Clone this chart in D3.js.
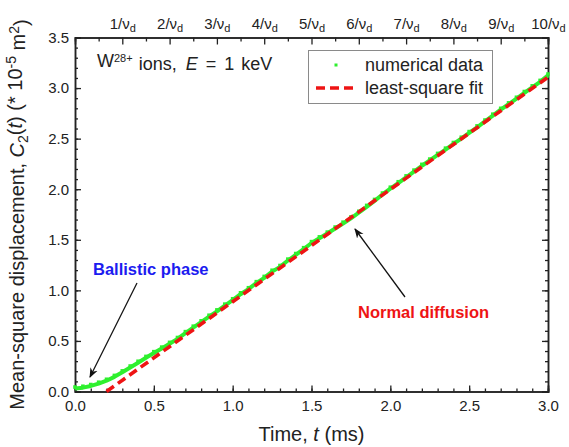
<!DOCTYPE html>
<html>
<head>
<meta charset="utf-8">
<script src="https://cdn.jsdelivr.net/npm/d3@7"></script>
<style>
  html, body { margin: 0; padding: 0; background: #fff; }
  svg { display: block; font-family: "Liberation Sans", Arial, sans-serif; }
</style>
</head>
<body>
<svg id="chart" width="569" height="447"></svg>
<script>
// Time (ms) and mean-square displacement C2(t) (×10^-5 m^2) from the simulation
const timeMs = [
  0.00, 0.05, 0.10, 0.15, 0.20, 0.25, 0.30, 0.35, 0.40, 0.45,
  0.50, 0.55, 0.60, 0.65, 0.70, 0.75, 0.80, 0.85, 0.90, 0.95,
  1.00, 1.05, 1.10, 1.15, 1.20, 1.25, 1.30, 1.35, 1.40, 1.45,
  1.50, 1.55, 1.60, 1.65, 1.70, 1.75, 1.80, 1.85, 1.90, 1.95,
  2.00, 2.05, 2.10, 2.15, 2.20, 2.25, 2.30, 2.35, 2.40, 2.45,
  2.50, 2.55, 2.60, 2.65, 2.70, 2.75, 2.80, 2.85, 2.90, 2.95, 3.00
];
const msdValues = [
  0.030, 0.038, 0.055, 0.078, 0.107, 0.145, 0.190, 0.238, 0.285, 0.333,
  0.380, 0.425, 0.472, 0.520, 0.578, 0.632, 0.685, 0.740, 0.793, 0.850,
  0.903, 0.962, 1.012, 1.072, 1.124, 1.185, 1.232, 1.295, 1.350, 1.408,
  1.468, 1.515, 1.562, 1.612, 1.660, 1.712, 1.768, 1.826, 1.885, 1.948,
  2.006, 2.060, 2.118, 2.175, 2.232, 2.284, 2.340, 2.392, 2.448, 2.500,
  2.556, 2.612, 2.670, 2.728, 2.786, 2.840, 2.895, 2.952, 3.008, 3.062, 3.125
];

// Least-square linear fit, given by its two end points
const fitTime = [0.2, 3.0];
const fitMsd = [0.0, 3.108];

// Tick values and labels
const xTicks = [0, 0.5, 1.0, 1.5, 2.0, 2.5, 3.0];
const yTicks = [0, 0.5, 1.0, 1.5, 2.0, 2.5, 3.0, 3.5];
const topTickMultiples = [1, 2, 3, 4, 5, 6, 7, 8, 9, 10];
const driftPeriodMs = 0.3;   // 1/ν_d in ms

const svg = d3.select("#chart");
const plotL = 75, plotR = 548, plotT = 37.5, plotB = 391.5;

const x = d3.scaleLinear().domain([0, 3]).range([plotL, plotR]);
const y = d3.scaleLinear().domain([0, 3.5]).range([plotB, plotT]);

const GREEN = "#2ef02e";
const RED = "#ee1414";
const AXIS = "#222";

// ---- axes (all ticks pointing inward) ----
const fmt = d3.format(".1f");
const minorX = d3.range(0, 3.0001, 0.1).map(v => +v.toFixed(2));
const minorY = d3.range(0, 3.5001, 0.1).map(v => +v.toFixed(2));
const topMajor = topTickMultiples.map(k => +(k * driftPeriodMs).toFixed(3));
const topMinor = topTickMultiples.map(k => +((k - 0.5) * driftPeriodMs).toFixed(3));

function styleAxis(g) {
  g.select(".domain").attr("stroke", AXIS).attr("stroke-width", 1.5);
  g.selectAll(".tick line").attr("stroke", AXIS).attr("stroke-width", 1.3);
  g.selectAll("text").attr("fill", "#222").style("font-size", "15px")
    .style("font-family", "'Liberation Sans', Arial, sans-serif");
}

// bottom
svg.append("g").attr("transform", `translate(0,${plotB})`)
  .call(d3.axisBottom(x).tickValues(minorX).tickSize(-3).tickFormat(""))
  .call(styleAxis);
svg.append("g").attr("transform", `translate(0,${plotB})`)
  .call(d3.axisBottom(x).tickValues(xTicks).tickSize(-6).tickPadding(9).tickFormat(fmt))
  .call(styleAxis);

// left
svg.append("g").attr("transform", `translate(${plotL},0)`)
  .call(d3.axisLeft(y).tickValues(minorY).tickSize(-3).tickFormat(""))
  .call(styleAxis);
svg.append("g").attr("transform", `translate(${plotL},0)`)
  .call(d3.axisLeft(y).tickValues(yTicks).tickSize(-6).tickPadding(6).tickFormat(fmt))
  .call(styleAxis);

// right
svg.append("g").attr("transform", `translate(${plotR},0)`)
  .call(d3.axisRight(y).tickValues(minorY).tickSize(-3).tickFormat(""))
  .call(styleAxis);
svg.append("g").attr("transform", `translate(${plotR},0)`)
  .call(d3.axisRight(y).tickValues(yTicks).tickSize(-6).tickFormat(""))
  .call(styleAxis);

// top: multiples of the drift period 1/ν_d
svg.append("g").attr("transform", `translate(0,${plotT})`)
  .call(d3.axisTop(x).tickValues(topMinor).tickSize(-4).tickFormat(""))
  .call(styleAxis);
const topAxis = svg.append("g").attr("transform", `translate(0,${plotT})`)
  .call(d3.axisTop(x).tickValues(topMajor).tickSize(-7).tickPadding(9).tickFormat(""))
  .call(styleAxis);
topAxis.selectAll(".tick").each(function(d, i) {
  const t = d3.select(this).select("text").style("font-size", "15px").attr("fill", "#222");
  t.text(null);
  t.append("tspan").text(topTickMultiples[i] + "/ν");
  t.append("tspan").attr("dy", "0.3em").style("font-size", "11px").text("d");
});

// ---- data ----
const points = timeMs.map((t, i) => ({ t, c: msdValues[i] }));
const line = d3.line().x(d => x(d.t)).y(d => y(d.c));

svg.append("path").datum(points)
  .attr("d", line)
  .attr("fill", "none")
  .attr("stroke", GREEN)
  .attr("stroke-width", 4)
  .attr("stroke-linejoin", "round");

svg.append("g").selectAll("rect").data(points).join("rect")
  .attr("x", d => x(d.t) - 1.8)
  .attr("y", d => y(d.c) - 3.2)
  .attr("width", 3.6).attr("height", 3.6)
  .attr("fill", GREEN);

const fitPts = fitTime.map((t, i) => ({ t, c: fitMsd[i] }));
svg.append("path").datum(fitPts)
  .attr("d", line)
  .attr("fill", "none")
  .attr("stroke", RED)
  .attr("stroke-width", 3.6)
  .attr("stroke-dasharray", "9,5");

// ---- legend ----
const legend = svg.append("g");
legend.append("rect")
  .attr("x", 308.5).attr("y", 50.5).attr("width", 184).attr("height", 53)
  .attr("fill", "#fff").attr("stroke", "#8a8a8a").attr("stroke-width", 1);
legend.append("rect").attr("x", 334.5).attr("y", 63.5).attr("width", 3).attr("height", 3).attr("fill", GREEN);
legend.append("line").attr("x1", 316).attr("x2", 354).attr("y1", 88).attr("y2", 88)
  .attr("stroke", RED).attr("stroke-width", 3.6).attr("stroke-dasharray", "9,5");
legend.append("text").attr("x", 365).attr("y", 71).style("font-size", "18px").attr("fill", "#222")
  .text("numerical data");
legend.append("text").attr("x", 365).attr("y", 94).style("font-size", "18px").attr("fill", "#222")
  .text("least-square fit");

// ---- annotation text ----
const info = svg.append("text").attr("x", 97).attr("y", 67).style("font-size", "18px").attr("fill", "#222");
info.append("tspan").text("W");
info.append("tspan").attr("dy", "-0.45em").style("font-size", "11px").text("28+");
info.append("tspan").attr("dy", "0.45em").attr("dx", 1).text(" ions,");
info.append("tspan").attr("dx", 4).text(" ");
info.append("tspan").style("font-style", "italic").text("E");
info.append("tspan").attr("dx", 3).text(" =");
info.append("tspan").attr("dx", 3).text(" 1");
info.append("tspan").attr("dx", 2).text(" keV");

// arrow head marker
svg.append("defs").append("marker")
  .attr("id", "arrow").attr("viewBox", "0 0 10 10")
  .attr("refX", 9).attr("refY", 5)
  .attr("markerWidth", 10).attr("markerHeight", 10)
  .attr("markerUnits", "userSpaceOnUse")
  .attr("orient", "auto")
  .append("path").attr("d", "M0,1 L10,5 L0,9 L3,5 Z").attr("fill", "#111");

svg.append("text").attr("x", 93).attr("y", 275)
  .style("font-size", "16.5px").style("font-weight", "bold").attr("fill", "#1c1cf0")
  .text("Ballistic phase");
svg.append("line").attr("x1", 137).attr("y1", 283).attr("x2", 90).attr("y2", 377)
  .attr("stroke", "#111").attr("stroke-width", 1.3).attr("marker-end", "url(#arrow)");

svg.append("text").attr("x", 358).attr("y", 318)
  .style("font-size", "16.5px").style("font-weight", "bold").attr("fill", RED)
  .text("Normal diffusion");
svg.append("line").attr("x1", 405).attr("y1", 297).attr("x2", 355).attr("y2", 229)
  .attr("stroke", "#111").attr("stroke-width", 1.3).attr("marker-end", "url(#arrow)");

// ---- axis titles ----
svg.append("text").attr("x", (plotL + plotR) / 2).attr("y", 441)
  .attr("text-anchor", "middle").style("font-size", "20px").attr("fill", "#222")
  .call(t => {
    t.append("tspan").text("Time, ");
    t.append("tspan").style("font-style", "italic").text("t");
    t.append("tspan").text(" (ms)");
  });

const ytitle = svg.append("text")
  .attr("transform", `translate(24,${(plotT + plotB) / 2}) rotate(-90)`)
  .attr("text-anchor", "middle").style("font-size", "20px").attr("fill", "#222");
ytitle.append("tspan").text("Mean-square displacement, ");
ytitle.append("tspan").style("font-style", "italic").text("C");
ytitle.append("tspan").attr("dy", "0.3em").style("font-size", "14px").text("2");
ytitle.append("tspan").attr("dy", "-0.3em").text("(");
ytitle.append("tspan").style("font-style", "italic").text("t");
ytitle.append("tspan").text(") (* 10");
ytitle.append("tspan").attr("dy", "-0.45em").style("font-size", "14px").text("-5");
ytitle.append("tspan").attr("dy", "0.45em").text(" m");
ytitle.append("tspan").attr("dy", "-0.45em").style("font-size", "14px").text("2");
ytitle.append("tspan").attr("dy", "0.45em").text(")");
</script>
</body>
</html>
